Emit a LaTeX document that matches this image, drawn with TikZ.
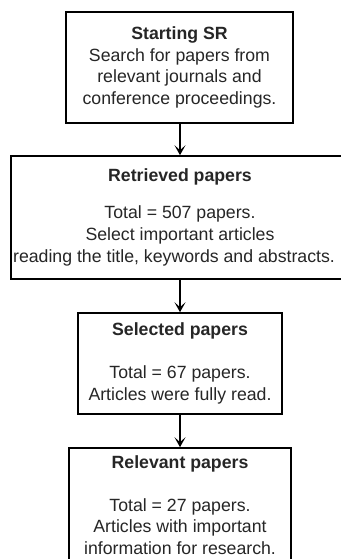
\documentclass[tikz,border=0pt]{standalone}
\usepackage{fontspec}
\setmainfont{Liberation Sans}
\usetikzlibrary{arrows.meta}
\begin{document}
\begin{tikzpicture}[x=1pt,y=1pt,
  stagebox/.style={draw=black, line width=1.6pt, inner sep=0pt, align=center,
    font=\fontsize{17.7}{21.7}\selectfont, text=black!85},
  flowarrow/.style={line width=2pt, -{Stealth[length=10pt,width=11pt,inset=5pt]}}]
\useasboundingbox (0,0) rectangle (340,-559);
\fill[white] (0,0) rectangle (340,-559);
\node[stagebox, minimum width=227, minimum height=111] (b1) at (179.5,-67.5)
  {\textbf{Starting SR}\\Search for papers from\\relevant journals and\\conference proceedings.};
\node[stagebox, minimum width=338, minimum height=123] (b2) at (180,-217.5)
  {\textbf{Retrieved papers}\\[15.5pt]Total = 507 papers.\\Select important articles\\reading the title, keywords and abstracts.\hspace*{12pt}};
\node[stagebox, minimum width=204, minimum height=101] (b3) at (180,-363.5)
  {\textbf{Selected papers}\\[21.5pt]Total = 67 papers.\\Articles were fully read.};
\node[stagebox, minimum width=222, minimum height=114] (b4) at (180,-505)
  {\textbf{Relevant papers}\\[21.5pt]Total = 27 papers.\\Articles with important\\information for research.};
\draw[flowarrow] (b1.south -| 180,0) -- (b2.north);
\draw[flowarrow] (b2.south) -- (b3.north);
\draw[flowarrow] (b3.south) -- (b4.north);
\end{tikzpicture}
\end{document}
